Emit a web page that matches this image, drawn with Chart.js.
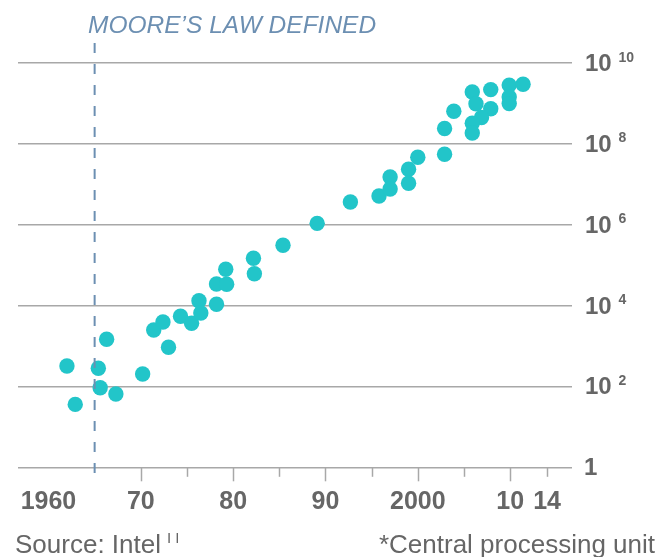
<!DOCTYPE html>
<html>
<head>
<meta charset="utf-8">
<script src="https://cdn.jsdelivr.net/npm/chart.js@4/dist/chart.umd.min.js"></script>
<style>
  html, body { margin: 0; padding: 0; background: #fff; overflow: hidden; }
  #wrap { position: relative; width: 659px; height: 557px; }
</style>
</head>
<body>
<div id="wrap"><canvas id="chart" width="659" height="557"></canvas></div>
<script>
// Transistors per CPU, by year of introduction
const years = [
  1962.0, 1962.9, 1965.4, 1965.6, 1966.3, 1967.3, 1970.2, 1971.4, 1972.4, 1973.0,
  1974.3, 1975.5, 1976.3, 1976.5, 1978.2, 1978.2, 1979.2, 1979.3, 1982.2, 1982.3,
  1985.4, 1989.1, 1992.7, 1995.8, 1997.0, 1997.0, 1999.0, 1999.0, 2000.0, 2002.9,
  2002.9, 2003.9, 2005.9, 2006.3, 2007.9, 2007.9, 2006.9, 2005.9, 2005.9, 2009.9,
  2009.9, 2009.9, 2011.4
];
const transistors = [
  320, 36, 281, 93, 1470, 65, 203, 2490, 3930, 930,
  5430, 3650, 13200, 6550, 10800, 34200, 78900, 33600, 147600, 61400,
  310000, 1080000, 3650000, 5130000, 15100000, 7640000, 23500000, 10600000, 46600000, 55500000,
  240000000, 643000000, 1920000000, 984000000, 2200000000, 736000000, 449000000, 323000000, 186000000, 2840000000,
  1440000000, 990000000, 2970000000
];

// Axis ticks
const xTickYears  = [1960, 1970, 1980, 1990, 2000, 2010, 2014];
const xTickLabels = ['1960', '70', '80', '90', '2000', '10', '14'];
const majorTickYears = [1970, 1980, 1990, 2000, 2010];
const minorTickYears = [1975, 1985, 1995, 2005, 2014];
const yTickValues    = [1, 1e2, 1e4, 1e6, 1e8, 1e10];
const yTickExponents = ['', '2', '4', '6', '8', '10'];

const mooreYear = 1965;
const mooreLabel = 'MOORE\u2019S LAW DEFINED';
const sourceText = 'Source: Intel';
const sourceMark = 'II';
const noteText = '*Central processing unit';

const FONT = '"Liberation Sans", Arial, Helvetica, sans-serif';
const TEXT_GREY = '#666666';
const GRID_GREY = '#a8a8a8';
const DOT = '#22c5c9';
const BLUE = '#6c8fb2';

const points = years.map((y, i) => ({ x: y, y: transistors[i] }));

// Extra drawing: tick marks, y labels with exponents, Moore line, notes
const decorations = {
  id: 'decorations',
  beforeDatasetsDraw(chart) {
    const { ctx, scales: { x, y } } = chart;
    const base = y.getPixelForValue(1);
    ctx.save();
    ctx.strokeStyle = GRID_GREY;
    ctx.lineWidth = 1.5;
    const mark = (yr, len) => {
      const px = Math.round(x.getPixelForValue(yr)) + 0.5;
      ctx.beginPath();
      ctx.moveTo(px, base);
      ctx.lineTo(px, base + len);
      ctx.stroke();
    };
    majorTickYears.forEach(yr => mark(yr, 14));
    minorTickYears.forEach(yr => mark(yr, 9.5));
    ctx.restore();
  },
  afterDatasetsDraw(chart) {
    const { ctx, scales: { x, y } } = chart;
    ctx.save();

    // Moore's law reference line
    const mx = x.getPixelForValue(mooreYear);
    ctx.strokeStyle = BLUE;
    ctx.lineWidth = 2;
    ctx.setLineDash([10, 11]);
    ctx.beginPath();
    ctx.moveTo(mx, 43);
    ctx.lineTo(mx, y.getPixelForValue(1) + 9);
    ctx.stroke();
    ctx.setLineDash([]);

    ctx.fillStyle = BLUE;
    ctx.font = 'italic 24.5px ' + FONT;
    ctx.textAlign = 'left';
    ctx.textBaseline = 'alphabetic';
    ctx.fillText(mooreLabel, 88, 33);

    // y labels: 10 with exponent
    ctx.fillStyle = TEXT_GREY;
    yTickValues.forEach((v, i) => {
      const py = y.getPixelForValue(v);
      ctx.font = 'bold 24px ' + FONT;
      if (v === 1) {
        ctx.fillText('1', 584, py + 8);
      } else {
        ctx.fillText('10', 585, py + 8);
        ctx.font = 'bold 14px ' + FONT;
        ctx.fillText(yTickExponents[i], 618.5, py - 1.5);
      }
    });

    // footer
    ctx.font = '26px ' + FONT;
    ctx.fillText(sourceText, 15, 553);
    const sw = ctx.measureText(sourceText).width;
    ctx.font = '15px ' + FONT;
    ctx.letterSpacing = '4px';
    ctx.fillText(sourceMark, 15 + sw + 6, 543);
    ctx.letterSpacing = '0px';
    ctx.font = '26px ' + FONT;
    ctx.textAlign = 'right';
    ctx.fillText(noteText, 655, 553);
    ctx.restore();
  }
};

new Chart(document.getElementById('chart'), {
  type: 'scatter',
  data: {
    datasets: [{
      data: points,
      backgroundColor: DOT,
      borderWidth: 0,
      pointRadius: 7.7,
      pointHoverRadius: 7.7
    }]
  },
  options: {
    responsive: false,
    animation: false,
    devicePixelRatio: 1,
    layout: { padding: { left: 18, right: 87, top: 63, bottom: 19.7 } },
    plugins: { legend: { display: false }, tooltip: { enabled: false } },
    scales: {
      x: {
        type: 'linear',
        min: 1956.7,
        max: 2016.7,
        afterBuildTicks: s => { s.ticks = xTickYears.map(v => ({ value: v })); },
        afterFit: s => {
          s.height = 70;
          s.paddingLeft = 0; s.paddingRight = 0;
          s.paddingTop = 0; s.paddingBottom = 0;
        },
        grid: { display: false, drawTicks: false },
        border: { display: false },
        ticks: {
          autoSkip: false,
          maxRotation: 0,
          padding: 20,
          color: TEXT_GREY,
          font: { family: FONT, size: 25, weight: 'bold' },
          callback: (v, i) => xTickLabels[i]
        }
      },
      y: {
        type: 'logarithmic',
        position: 'right',
        min: 1,
        max: 1e10,
        afterBuildTicks: s => { s.ticks = yTickValues.map(v => ({ value: v })); },
        afterFit: s => {
          s.width = 0;
          s.paddingTop = 0; s.paddingBottom = 0;
        },
        grid: { color: GRID_GREY, lineWidth: 1.5, drawTicks: false },
        border: { display: false },
        ticks: { display: false }
      }
    }
  },
  plugins: [decorations]
});
</script>
</body>
</html>
